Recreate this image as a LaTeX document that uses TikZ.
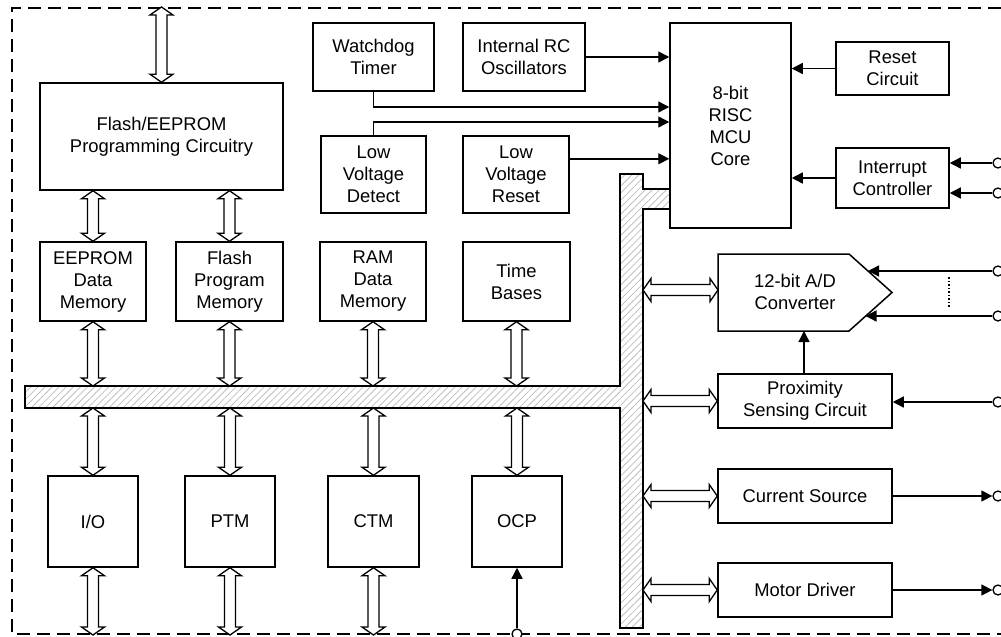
\documentclass[tikz,border=0pt]{standalone}
\usepackage{fontspec}
\setmainfont{Liberation Sans}
\usetikzlibrary{arrows.meta,patterns.meta,calc}
\newcommand\hollow[2]{%
  \coordinate (hA) at (#1);
  \coordinate (hB) at (#2);
  \filldraw[harr]
    (hA)
    -- ($(hA)!8pt!(hB)!11.5pt!90:(hB)$)
    -- ($(hA)!8pt!(hB)!5.5pt!90:(hB)$)
    -- ($(hB)!8pt!(hA)!5.5pt!-90:(hA)$)
    -- ($(hB)!8pt!(hA)!11.5pt!-90:(hA)$)
    -- (hB)
    -- ($(hB)!8pt!(hA)!11.5pt!90:(hA)$)
    -- ($(hB)!8pt!(hA)!5.5pt!90:(hA)$)
    -- ($(hA)!8pt!(hB)!5.5pt!-90:(hB)$)
    -- ($(hA)!8pt!(hB)!11.5pt!-90:(hB)$)
    -- cycle;}
\begin{document}
\begin{tikzpicture}[x=1pt,y=-1pt,
  box/.style={draw, line width=1.5pt, align=center, inner sep=0pt, font=\fontsize{18.4}{22}\selectfont},
  sz/.style 2 args={minimum width=#1pt, minimum height=#2pt},
  lbl/.style={align=center, inner sep=0pt, font=\fontsize{18.4}{22}\selectfont},
  sarr/.style={line width=1.4pt, -{Triangle[length=11pt,width=11pt]}},
  harr/.style={fill=white, draw=black, line width=1.3pt, line join=miter},
  pinc/.style={circle, draw, line width=1.3pt, fill=white, minimum size=10pt, inner sep=0pt},
  dashframe/.style={line width=1.3pt, dash pattern=on 13pt off 7pt},
  busfill/.style={draw, line width=1.5pt, pattern={Lines[angle=45,distance=5pt,line width=0.8pt]}, pattern color=black!25}
]
\useasboundingbox (0,0) rectangle (1001,637);
\clip (0,0) rectangle (1001,637);

% frame
\draw[dashframe] (1001,8) -| (12,634) -- (1001,634);

% bus
\draw[busfill] (25,386) -- (620,386) -- (620,174) -- (643,174) -- (643,189) -- (670,189) -- (670,209) -- (643,209) -- (643,628) -- (620,628) -- (620,408) -- (25,408) -- cycle;
\coordinate (bt) at (0,386);
\coordinate (bb) at (0,408);
\coordinate (be) at (643,0);
\coordinate (ftop) at (0,7);
\coordinate (fbot) at (0,635);
\coordinate (y107) at (0,107);
\coordinate (y122) at (0,122);

% boxes
\node[box, sz={243}{107}] (prog) at (161.5,136.5) {Flash/EEPROM\\Programming Circuitry};
\node[box, sz={121}{68}] (wdt) at (373.5,57) {Watchdog\\Timer};
\node[box, sz={122}{68}] (irc) at (524,57) {Internal RC\\Oscillators};
\node[box, sz={121}{205}] (core) at (730.5,125.5) {8-bit\\RISC\\MCU\\Core};
\node[box, sz={113}{53}] (rst) at (892.5,68.5) {Reset\\Circuit};
\node[box, sz={113}{60}] (intc) at (892.5,178) {Interrupt\\Controller};
\node[box, sz={105}{77}] (lvd) at (373.5,174.5) {Low\\Voltage\\Detect};
\node[box, sz={106}{77}] (lvr) at (516,174.5) {Low\\Voltage\\Reset};

\node[box, sz={106}{79}] (eep) at (93,281.5) {EEPROM\\Data\\Memory};
\node[box, sz={107}{79}] (fpm) at (229.5,281.5) {Flash\\Program\\Memory};
\node[box, sz={106}{79}] (ram) at (373,281.5) {RAM\\Data\\Memory};
\node[box, sz={107}{79}] (tb) at (516.5,281.5) {Time\\Bases};

\node[box, sz={90}{91}] (io) at (93,521.5) {I/O};
\node[box, sz={90}{91}] (ptm) at (230,521.5) {PTM};
\node[box, sz={91}{91}] (ctm) at (373.5,521.5) {CTM};
\node[box, sz={90}{91}] (ocp) at (517,521.5) {OCP};

% ADC
\draw[line width=1.5pt] (718,254) -- (849,254) -- (892,292.5) -- (849,331) -- (718,331) -- cycle;
\node[lbl] (adc) at (795,292) {12-bit A/D\\Converter};
\coordinate (adcW) at (718,290);
\coordinate (adcS) at (804,331);
\coordinate (a1) at (868,271);
\coordinate (a2) at (865.5,316);

\node[box, sz={174}{54}] (prox) at (805,401) {Proximity\\Sensing Circuit};
\node[box, sz={174}{54}] (cur) at (805,496) {Current Source};
\node[box, sz={174}{54}] (mot) at (805,590) {Motor Driver};

% hollow bus arrows
\hollow{prog.north |- ftop}{prog.north}
\hollow{prog.south -| eep.north}{eep.north}
\hollow{prog.south -| fpm.north}{fpm.north}
\foreach \n in {eep,fpm,ram,tb} {\hollow{\n.south}{\n.south |- bt}}
\foreach \n in {io,ptm,ctm,ocp} {\hollow{\n.north |- bb}{\n.north}}
\foreach \n in {io,ptm,ctm} {\hollow{\n.south}{\n.south |- fbot}}
\hollow{be |- adcW}{adcW}
\hollow{be |- prox.west}{prox.west}
\hollow{be |- cur.west}{cur.west}
\hollow{be |- mot.west}{mot.west}

% pins
\node[pinc] (p0) at (517,634) {};
\node[pinc] (p1) at (998,163) {};
\node[pinc] (p2) at (998,193) {};
\node[pinc] (p3) at (998,271) {};
\node[pinc] (p4) at (998,316) {};
\node[pinc] (p5) at (998,402) {};
\node[pinc] (p6) at (998,496) {};
\node[pinc] (p7) at (998,590) {};

% single arrows
\draw[sarr] (irc.east) -- (irc.east -| core.west);
\draw[sarr] (wdt.south) |- (y107 -| core.west);
\draw[sarr] (lvd.north) |- (y122 -| core.west);
\coordinate (lvrout) at ($(lvr.north east)!0.3!(lvr.south east)$);
\draw[sarr] (lvrout) -- (lvrout -| core.west);
\draw[sarr] (rst.west) -- (rst.west -| core.east);
\draw[sarr] (intc.west) -- (intc.west -| core.east);
\draw[sarr] (p1.west) -- (p1.west -| intc.east);
\draw[sarr] (p2.west) -- (p2.west -| intc.east);
\draw[sarr] (p3.west) -- (a1);
\draw[sarr] (p4.west) -- (a2);
\draw[line width=1.2pt, dash pattern=on 1.5pt off 2pt] (949,277) -- (949,308);
\draw[sarr] (adcS |- prox.north) -- (adcS);
\draw[sarr] (p5.west) -- (p5.west -| prox.east);
\draw[sarr] (cur.east) -- (p6.west);
\draw[sarr] (mot.east) -- (p7.west);
\draw[sarr] (p0.north) -- (ocp.south);
\end{tikzpicture}
\end{document}
